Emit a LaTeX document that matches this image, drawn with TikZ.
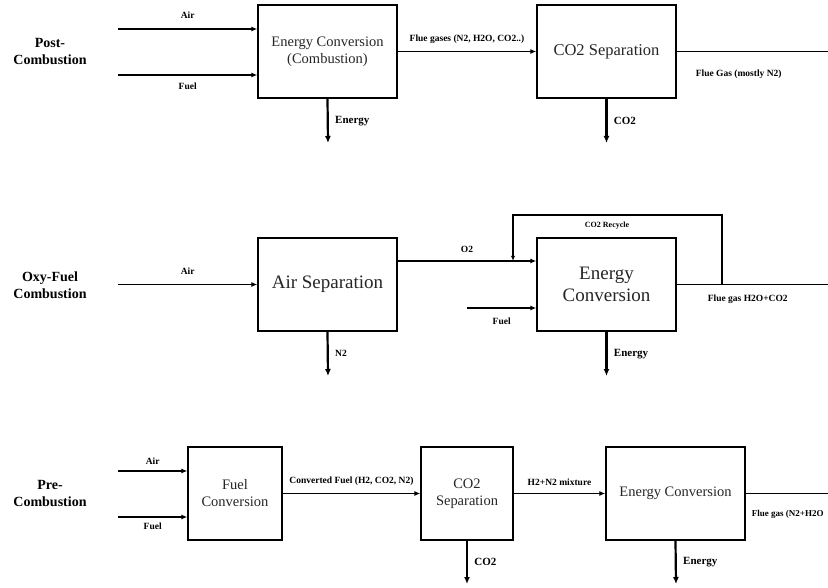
\documentclass[tikz,border=0pt]{standalone}
\usepackage{fontspec}
\setmainfont{Liberation Serif}
\usepackage{tikz}
\usetikzlibrary{arrows.meta,calc,positioning}

\begin{document}
\begin{tikzpicture}[x=1pt,y=-1pt,
box/.style={draw, line width=1.3pt, minimum width=139pt, minimum height=93pt, align=center, inner sep=2pt, text=black!85, font=\fontsize{14.5}{17}\selectfont},
bigbox/.style={box, font=\fontsize{19}{22}\selectfont},
lbl/.style={font=\bfseries\fontsize{9.5}{11}\selectfont},
outlbl/.style={font=\bfseries\fontsize{11}{13}\selectfont},
side/.style={align=center, font=\bfseries\fontsize{14}{17}\selectfont},
flow/.style={line width=1.6pt, -{Latex[length=6pt,width=5pt]}},
heavy/.style={line width=2.2pt, -{Latex[length=7pt,width=6pt]}},
pipe/.style={line width=1.8pt},]
\clip (0,0) rectangle (828,588);

\node[side] (post) at (50,52) {Post-\\Combustion};
\node[box] (ec1) at (327.5,51.5) {Energy Conversion\\(Combustion)};
\node[box, font=\fontsize{16.5}{19}\selectfont] (sep1) at (606.5,51.5) {CO2 Separation};
\coordinate (air1) at (118,29);
\coordinate (fuel1) at (118,75);
\coordinate (en1) at (328,143);
\coordinate (co21) at (606.5,143);
\coordinate (out1) at (828,51.5);
\draw[flow] (air1) -- (air1 -| ec1.west) node[lbl, midway, above=6pt] {Air};
\draw[flow] (fuel1) -- (fuel1 -| ec1.west) node[lbl, midway, below=4pt] {Fuel};
\draw[flow] (ec1) -- (sep1) node[lbl, midway, above=4pt] {Flue gases (N2, H2O, CO2..)};
\draw[heavy] (ec1.south) -- (en1) node[outlbl, midway, right=3pt] {Energy};
\draw[heavy] (sep1.south) -- (co21) node[outlbl, midway, right=3pt] {CO2};
\draw[pipe] (sep1) -- (out1) node[lbl, pos=0.41, below=14pt] {Flue Gas (mostly N2)};

\node[side] (oxy) at (50,285) {Oxy-Fuel\\Combustion};
\node[bigbox] (asu) at (327.5,284.5) {Air Separation};
\node[bigbox] (ec2) at (606.5,284.5) {Energy\\Conversion};
\coordinate (air2) at (118,284.5);
\coordinate (fuel2) at (467,308);
\coordinate (n2) at (328,376);
\coordinate (en2) at (606.5,376);
\coordinate (out2) at (828,284.5);
\coordinate (o2s) at ([yshift=23.5pt]asu.east);
\coordinate (o2e) at ([yshift=23.5pt]ec2.west);
\coordinate (rc) at (722,284.5);
\coordinate (rctop) at (513,215);
\draw[flow] (air2) -- (asu) node[lbl, midway, above=6pt] {Air};
\draw[flow] (o2s) -- (o2e) node[lbl, pos=0.5, above=4pt] {O2};
\draw[flow] (fuel2) -- (fuel2 -| ec2.west) node[lbl, midway, below=6pt] {Fuel};
\draw[heavy] (asu.south) -- (n2) node[lbl, midway, right=3pt] {N2};
\draw[heavy] (ec2.south) -- (en2) node[outlbl, midway, right=3pt] {Energy};
\draw[pipe] (ec2) -- (out2) node[lbl, pos=0.47, below=6pt] {Flue gas H2O+CO2};
\draw[line width=1.3pt, -{Latex[length=5pt,width=4pt]}] (rc) |- node[lbl, font=\bfseries\fontsize{8}{10}\selectfont, pos=0.775, below=3pt] {CO2 Recycle} (rctop) -- (rctop |- o2s);

\node[side] (pre) at (50,494) {Pre-\\Combustion};
\node[box, minimum width=94pt] (fc) at (235,493.5) {Fuel\\Conversion};
\node[box, minimum width=92pt] (sep3) at (467,493.5) {CO2\\Separation};
\node[box] (ec3) at (675.5,493.5) {Energy Conversion};
\coordinate (air3) at (118,471);
\coordinate (fuel3) at (118,517);
\coordinate (co23) at (467,584);
\coordinate (en3) at (676,584);
\coordinate (out3) at (828,493.5);
\draw[flow] (air3) -- (air3 -| fc.west) node[lbl, midway, above=2pt] {Air};
\draw[flow] (fuel3) -- (fuel3 -| fc.west) node[lbl, midway, below=2pt] {Fuel};
\draw[flow] (fc) -- (sep3) node[lbl, midway, above=4pt] {Converted Fuel (H2, CO2, N2)};
\draw[flow] (sep3) -- (ec3) node[lbl, midway, above=4pt] {H2+N2 mixture};
\draw[heavy] (sep3.south) -- (co23) node[outlbl, midway, right=3pt] {CO2};
\draw[heavy] (ec3.south) -- (en3) node[outlbl, midway, right=3pt] {Energy};
\draw[pipe] (ec3) -- (out3) node[lbl, font=\bfseries\fontsize{9}{11}\selectfont, pos=0, below right=13pt and 2pt] {Flue gas (N2+H2O};
\end{tikzpicture}
\end{document}
